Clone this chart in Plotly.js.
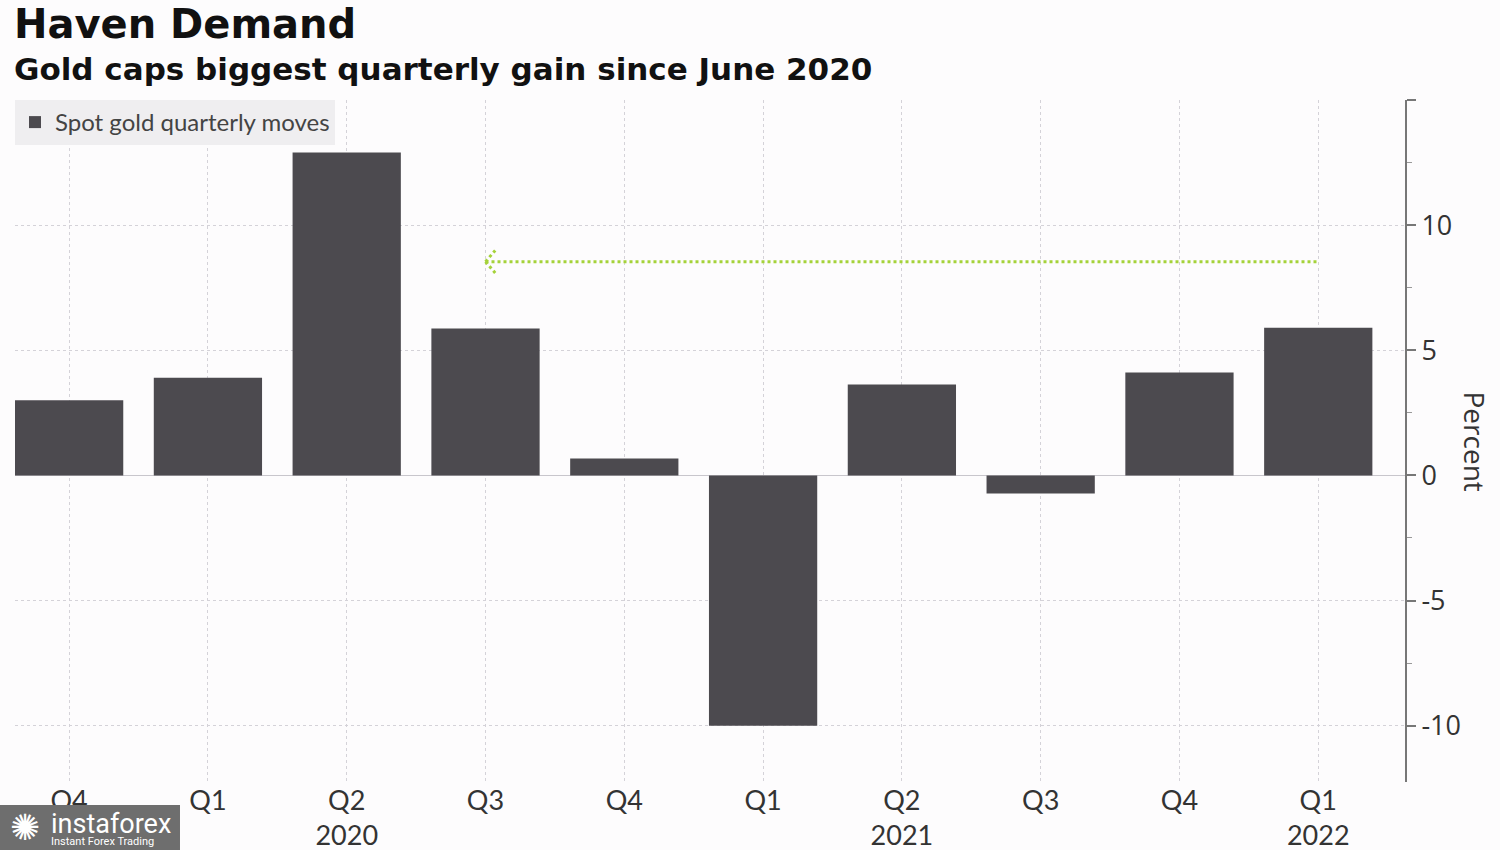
<!DOCTYPE html>
<html>
<head>
<meta charset="utf-8">
<script src="https://cdn.plot.ly/plotly-3.0.1.min.js"></script>
<style>
html,body{margin:0;padding:0;background:#fdfcfd;}
#chart{width:1500px;height:850px;}
</style>
</head>
<body>
<div id="chart"></div>
<script>
// ---- data ----
const quarters = ["Q4", "Q1", "Q2", "Q3", "Q4", "Q1", "Q2", "Q3", "Q4", "Q1"];
const years    = ["", "", "2020", "", "", "", "2021", "", "", "2022"];
const moves    = [3.0, 3.9, 12.9, 5.87, 0.68, -10.0, 3.63, -0.72, 4.11, 5.9];
const seriesName = "Spot gold quarterly moves";
const yTicks = [-10, -5, 0, 5, 10, 15];
const yTickText = ["-10", "-5", "0", "5", "10", ""];
// arrow: from last quarter back to the Q3 2020 level
const arrowFromIdx = 9;
const arrowToIdx = 3;
const arrowLevel = 8.54;

const idx = quarters.map((_, i) => i);
const tickText = quarters.map((q, i) => years[i] ? q + "<br>" + years[i] : q);

const narrow = "Lato, Roboto, sans-serif";
const green = "#a5d23a";

const trace = {
  type: "bar",
  x: idx,
  y: moves,
  name: seriesName,
  marker: {color: "#4c4a4f", line: {width: 0}},
  width: 0.78,
  showlegend: true,
  hoverinfo: "y"
};

const dx = 0.07, dy = 0.45;
const layout = {
  width: 1500, height: 850,
  paper_bgcolor: "#fdfcfd",
  plot_bgcolor: "#fdfcfd",
  margin: {l: 15, r: 95, t: 100, b: 68},
  showlegend: true,
  legend: {
    x: 0, y: 1, xanchor: "left", yanchor: "top",
    bgcolor: "#efeef0",
    borderwidth: 0,
    font: {family: narrow, size: 24, color: "#444"},
    itemwidth: 30,
    tracegroupgap: 0
  },
  xaxis: {
    range: [-0.39, 9.625],
    tickmode: "array",
    tickvals: idx,
    ticktext: tickText,
    tickfont: {family: narrow, size: 27, color: "#333"},
    showgrid: true,
    gridcolor: "#d4d2d8",
    griddash: "dot",
    gridwidth: 1,
    zeroline: false,
    showline: false,
    ticks: "",
    fixedrange: true
  },
  yaxis: {
    side: "right",
    range: [-12.25, 15],
    tickmode: "array",
    tickvals: yTicks,
    ticktext: yTickText,
    tickfont: {family: "Open Sans, DejaVu Sans, sans-serif", size: 27, color: "#333"},
    ticks: "outside",
    ticklen: 9,
    tickwidth: 2,
    tickcolor: "#777",
    showline: true,
    linecolor: "#777",
    linewidth: 2,
    showgrid: true,
    gridcolor: "#d4d2d8",
    griddash: "dot",
    gridwidth: 1,
    zeroline: true,
    zerolinecolor: "#c8c6cc",
    zerolinewidth: 1,
    minor: {dtick: 2.5, ticks: "outside", ticklen: 5, tickcolor: "#999", tickwidth: 1, showgrid: false},
    fixedrange: true
  },
  shapes: [
    {type: "line", xref: "x", yref: "y", x0: arrowToIdx, x1: arrowFromIdx, y0: arrowLevel, y1: arrowLevel,
     line: {color: green, width: 3, dash: "dot"}},
    {type: "line", xref: "x", yref: "y", x0: arrowToIdx, x1: arrowToIdx + dx, y0: arrowLevel, y1: arrowLevel + dy,
     line: {color: green, width: 3, dash: "dot"}},
    {type: "line", xref: "x", yref: "y", x0: arrowToIdx, x1: arrowToIdx + dx, y0: arrowLevel, y1: arrowLevel - dy,
     line: {color: green, width: 3, dash: "dot"}},
    // watermark box
    {type: "rect", xref: "paper", yref: "paper", x0: -0.0108, x1: 0.1187, y0: -0.0997, y1: -0.0337,
     fillcolor: "#6e6e6e", line: {width: 0}, layer: "above"}
  ],
  annotations: [
    {xref: "paper", yref: "paper", x: -0.002, y: 1.111, xanchor: "left", yanchor: "middle", showarrow: false,
     text: "<b>Haven Demand</b>", font: {family: "DejaVu Sans, sans-serif", size: 40, color: "#111"}},
    {xref: "paper", yref: "paper", x: -0.002, y: 1.046, xanchor: "left", yanchor: "middle", showarrow: false,
     text: "<b>Gold caps biggest quarterly gain since June 2020</b>", font: {family: "DejaVu Sans, sans-serif", size: 31, color: "#111"}},
    {xref: "paper", yref: "paper", x: 1.05, y: 0.50, xanchor: "center", yanchor: "middle", showarrow: false,
     text: "Percent", textangle: 90, font: {family: "Open Sans, DejaVu Sans, sans-serif", size: 28, color: "#333"}},
    {xref: "paper", yref: "paper", x: 0.007, y: -0.0674, xanchor: "center", yanchor: "middle", showarrow: false,
     text: "✺", font: {family: "DejaVu Sans, sans-serif", size: 36, color: "#fff"}},
    {xref: "paper", yref: "paper", x: 0.0245, y: -0.061, xanchor: "left", yanchor: "middle", showarrow: false,
     text: "instaforex", font: {family: "Roboto, sans-serif", size: 27, color: "#fff"}},
    {xref: "paper", yref: "paper", x: 0.0245, y: -0.0875, xanchor: "left", yanchor: "middle", showarrow: false,
     text: "Instant Forex Trading", font: {family: "Roboto, sans-serif", size: 11, color: "#fff"}}
  ]
};

Plotly.newPlot("chart", [trace], layout, {displayModeBar: false, staticPlot: true});
</script>
</body>
</html>
